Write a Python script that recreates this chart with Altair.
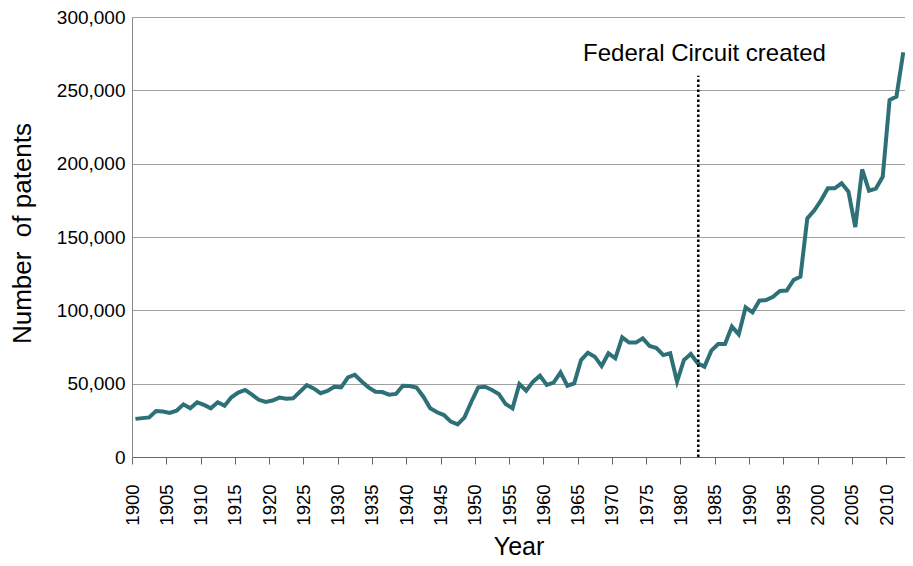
import altair as alt
import pandas as pd

# ---- data ----
years = list(range(1900, 2013))
patents = [
    26000, 26500, 27000, 31400, 31000, 30000, 31600, 35900, 33200, 37300,  # 1900s
    35500, 33200, 37300, 35000, 40700, 43900, 45700, 42500, 39000, 37500,  # 1910s
    38500, 40500, 39800, 40000, 44500, 49000, 46800, 43500, 45000, 47900,  # 1920s
    47500, 54300, 56100, 51500, 47500, 44500, 44300, 42500, 43000, 48600,  # 1930s
    48400, 47300, 41100, 33200, 30500, 28600, 24100, 22300, 27000, 37700,  # 1940s
    47500, 47900, 45700, 43000, 36100, 33200, 49800, 45200, 51400, 55400,  # 1950s
    49100, 50700, 57700, 48600, 50200, 66100, 71100, 68400, 62000, 70700,  # 1960s
    67300, 81600, 78000, 78000, 80900, 75700, 74300, 69500, 70700, 51400,  # 1970s
    66100, 70200, 63900, 61600, 72500, 77000, 77000, 88900, 83600, 102000,  # 1980s
    98600, 106600, 107000, 109300, 113200, 113500, 120700, 123000, 162700, 168000,  # 1990s
    175000, 183200, 183200, 186600, 180900, 156800, 196100, 181600, 183000, 191000,  # 2000s
    243400, 245700, 276000,  # 2010-2012
]
x_tick_years = list(range(1900, 2011, 5))
y_tick_values = list(range(0, 300001, 50000))

event_text = ["Federal Circuit created"]
event_x = [1982.6]
event_bottom = [0]
event_top = [260000]
event_label_x = [1983.5]
event_label_y = [270000]

FONT = "Liberation Sans"
LINE_COLOR = "#2E7077"

df = pd.DataFrame({"year": years, "patents": patents})
ev = pd.DataFrame({"x": event_x, "bottom": event_bottom, "top": event_top,
                   "lx": event_label_x, "ly": event_label_y, "text": event_text})

x_scale = alt.Scale(domain=[1900, 2012.75], nice=False, zero=False)
y_scale = alt.Scale(domain=[0, 300000], nice=False)

x_axis = alt.Axis(
    values=x_tick_years, format="d", labelAngle=270, labelFontSize=18.5,
    labelFont=FONT, labelColor="#000000", tickSize=7, tickColor="#666666",
    labelPadding=20, grid=False, domainColor="#666666", title="Year",
    titleFont=FONT, titleFontSize=25, titleFontWeight="normal", titleColor="#000000",
    titleY=97, titleBaseline="alphabetic", labelOverlap=False, labelFlush=False,
)
y_axis = alt.Axis(
    values=y_tick_values, format=",d", labelFontSize=19, labelFont=FONT,
    labelColor="#000000", tickSize=0, labelPadding=7, grid=True,
    gridColor="#a0a0a0", gridWidth=1, domainColor="#888888",
    title="Number\u00a0 of patents", titleFont=FONT, titleFontSize=26,
    titleFontWeight="normal", titleColor="#000000", titleAngle=270,
    titleX=-110, titleY=216, titleAlign="center", titleBaseline="middle",
    labelOverlap=False,
)

line = alt.Chart(df).transform_calculate(
    xpos="datum.year + 0.5"
).mark_line(color=LINE_COLOR, strokeWidth=4).encode(
    x=alt.X("xpos:Q", scale=x_scale, axis=x_axis),
    y=alt.Y("patents:Q", scale=y_scale, axis=y_axis),
)

rule = alt.Chart(ev).mark_rule(color="#000000", strokeWidth=2.5, strokeDash=[2.5, 2.5]).encode(
    x=alt.X("x:Q", scale=x_scale, axis=x_axis),
    y=alt.Y("bottom:Q", scale=y_scale, axis=y_axis),
    y2=alt.Y2("top:Q"),
)

label = alt.Chart(ev).mark_text(
    align="center", baseline="alphabetic", fontSize=24, font=FONT, color="#000000"
).encode(
    x=alt.X("lx:Q", scale=x_scale, axis=x_axis),
    y=alt.Y("ly:Q", scale=y_scale, axis=y_axis),
    text="text:N",
)

chart = alt.layer(line, rule, label).properties(
    width=773, height=440,
    autosize=alt.AutoSizeParams(type="none"),
    padding={"left": 124, "top": 9, "right": 0, "bottom": 101},
    background="white",
).configure_view(strokeWidth=0)

chart.save("out.html", embed_options={"renderer": "svg", "actions": False})
